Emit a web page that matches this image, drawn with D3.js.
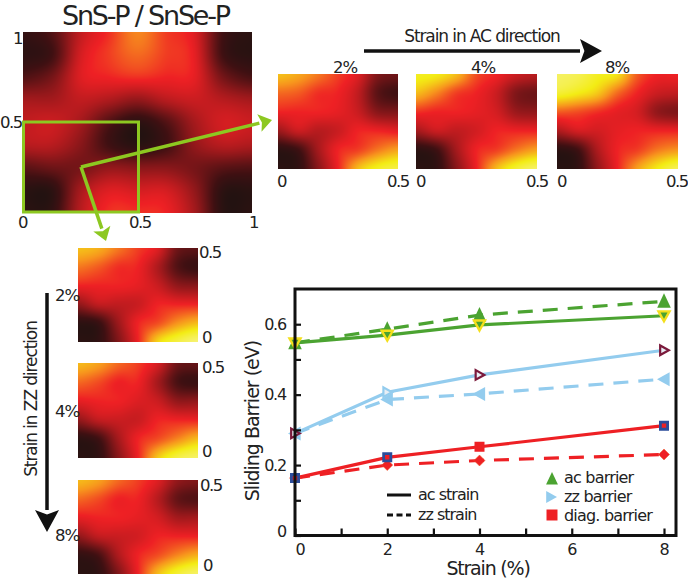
<!DOCTYPE html>
<html>
<head>
<meta charset="utf-8">
<script src="https://cdn.jsdelivr.net/npm/d3@7"></script>
<style>
  html, body { margin: 0; padding: 0; background: #fff; }
  svg { display: block; font-family: "DejaVu Sans", sans-serif; fill: #222; }
</style>
</head>
<body>
<div id="chart"></div>
<script>
// energy surfaces, read by eye (top row first, 0 = black, 1 = pale yellow)
const mainGrid = [
  [.08, .16, .40, .52, .64, .54, .46, .12, .05],
  [.06, .12, .44, .54, .60, .54, .48, .12, .05],
  [.16, .24, .46, .50, .52, .50, .48, .24, .14],
  [.34, .34, .40, .36, .30, .38, .42, .38, .34],
  [.40, .42, .34, .16, .06, .16, .34, .44, .42],
  [.38, .38, .28, .12, .05, .12, .30, .38, .36],
  [.18, .22, .24, .30, .28, .28, .24, .18, .16],
  [.05, .06, .34, .46, .44, .44, .30, .06, .05],
  [.05, .07, .38, .52, .52, .50, .34, .05, .05]
];
const ac2 = [
  [.73, .69, .62, .54, .46, .26, .22],
  [.60, .58, .52, .50, .40, .18, .12],
  [.50, .50, .50, .48, .42, .28, .26],
  [.32, .42, .38, .42, .50, .50, .48],
  [.06, .12, .34, .50, .54, .62, .68],
  [.05, .07, .28, .50, .72, .82, .86]
];
const ac4 = [
  [.82, .80, .72, .56, .50, .42, .38],
  [.72, .64, .54, .50, .42, .26, .22],
  [.52, .50, .50, .48, .44, .32, .30],
  [.34, .42, .40, .44, .50, .50, .50],
  [.06, .12, .34, .50, .54, .62, .68],
  [.05, .07, .28, .50, .72, .84, .90]
];
const ac8 = [
  [.90, .88, .82, .78, .58, .50, .50],
  [.84, .80, .74, .60, .50, .42, .40],
  [.58, .56, .52, .48, .44, .30, .26],
  [.36, .44, .44, .48, .50, .50, .50],
  [.06, .12, .36, .50, .54, .62, .66],
  [.04, .07, .30, .50, .68, .80, .88]
];
const zz2 = [
  [.73, .70, .62, .54, .46, .22, .18],
  [.62, .58, .52, .50, .36, .16, .10],
  [.50, .50, .50, .48, .42, .30, .28],
  [.30, .40, .40, .42, .50, .50, .50],
  [.06, .10, .32, .50, .56, .66, .72],
  [.05, .07, .26, .50, .76, .86, .92]
];
const zz4 = [
  [.72, .68, .60, .54, .44, .22, .20],
  [.60, .56, .50, .50, .34, .14, .10],
  [.48, .50, .50, .46, .42, .30, .30],
  [.30, .40, .42, .42, .50, .50, .50],
  [.06, .12, .34, .50, .56, .64, .72],
  [.05, .07, .28, .50, .74, .86, .90]
];
const zz8 = [
  [.72, .68, .60, .54, .46, .30, .26],
  [.60, .56, .50, .50, .38, .20, .16],
  [.48, .50, .50, .48, .44, .34, .34],
  [.30, .40, .42, .44, .50, .50, .50],
  [.08, .14, .36, .50, .56, .64, .70],
  [.05, .07, .26, .50, .72, .84, .90]
];

const strains = [0, 2, 4, 8];
const acBarrierAc = [0.547, 0.569, 0.598, 0.624];
const acBarrierZz = [0.547, 0.586, 0.626, 0.665];
const zzBarrierAc = [0.290, 0.407, 0.456, 0.526];
const zzBarrierZz = [0.290, 0.386, 0.402, 0.444];
const diagBarrierAc = [0.163, 0.222, 0.252, 0.312];
const diagBarrierZz = [0.163, 0.200, 0.213, 0.230];

const xTickLabels = [0, 2, 4, 6, 8];
const yTickLabels = [0, 0.2, 0.4, 0.6];

const GREEN = '#4ba331';
const BLUE = '#93ccee';
const RED = '#ee2024';
const LIME = '#8dc821';
const MAROON = '#7b1a3c';
const NAVY = '#2b4c9b';
const YELLOW = '#f4df1c';

const svg = d3.select('#chart').append('svg')
  .attr('width', 688)
  .attr('height', 578);

const heatColor = d3.scaleLinear()
  .domain([0, .12, .5, .66, .8, 1])
  .range(['#1b1311', '#3f1012', '#ee2024', '#f7941d', '#f3ec14', '#f8f6b0'])
  .clamp(true);

// catmull-rom so the surface goes through the values
const cubic = (a, b, c, d, t) => .5 * (2 * b + (c - a) * t
  + (2 * a - 5 * b + 4 * c - d) * t * t + (3 * b - a - 3 * c + d) * t * t * t);

const sample = (grid, u, v) => {
  const rows = grid.length, cols = grid[0].length;
  const fy = v * (rows - 1), fx = u * (cols - 1);
  const iy = Math.min(Math.floor(fy), rows - 2), ix = Math.min(Math.floor(fx), cols - 2);
  const at = (r, c) => grid[Math.max(0, Math.min(rows - 1, r))][Math.max(0, Math.min(cols - 1, c))];
  const row = r => cubic(at(r, ix - 1), at(r, ix), at(r, ix + 1), at(r, ix + 2), fx - ix);
  return cubic(row(iy - 1), row(iy), row(iy + 1), row(iy + 2), fy - iy);
};

const drawHeat = (grid, x, y, w, h) => {
  const canvas = d3.create('canvas').attr('width', w).attr('height', h).node();
  const ctx = canvas.getContext('2d');
  for (let j = 0; j < h; j++) {
    for (let i = 0; i < w; i++) {
      ctx.fillStyle = heatColor(sample(grid, i / (w - 1), j / (h - 1)));
      ctx.fillRect(i, j, 1, 1);
    }
  }
  svg.append('image')
    .attr('x', x).attr('y', y)
    .attr('width', w).attr('height', h)
    .attr('href', canvas.toDataURL());
};

const label = (txt, x, y, size, anchor, spacing) => svg.append('text')
  .attr('x', x).attr('y', y)
  .attr('font-size', size)
  .attr('text-anchor', anchor || 'start')
  .attr('letter-spacing', spacing || 0)
  .text(txt);

const arrow = (x1, y1, x2, y2, color, width, headLen, headHalf) => {
  const ang = Math.atan2(y2 - y1, x2 - x1);
  const bx = x2 - headLen * Math.cos(ang), by = y2 - headLen * Math.sin(ang);
  const nx = -Math.sin(ang) * headHalf, ny = Math.cos(ang) * headHalf;
  svg.append('line')
    .attr('x1', x1).attr('y1', y1).attr('x2', bx).attr('y2', by)
    .attr('stroke', color).attr('stroke-width', width);
  svg.append('path')
    .attr('d', `M${x2},${y2}L${bx + nx},${by + ny}L${bx + (x2 - bx) * .2},${by + (y2 - by) * .2}L${bx - nx},${by - ny}Z`)
    .attr('fill', color);
};

// big map
drawHeat(mainGrid, 23, 32, 229, 181);
label('SnS-P / SnSe-P', 62, 25, 27, 'start', -2.2);
label('1', 13, 44, 16.5);
label('0.5', 0, 128, 16.5, 'start', -1.5);
label('0', 18, 228, 16.5);
label('0.5', 129, 228, 16.5, 'start', -1.5);
label('1', 249, 228, 16.5);

svg.append('rect')
  .attr('x', 23.5).attr('y', 122)
  .attr('width', 115).attr('height', 90)
  .attr('fill', 'none')
  .attr('stroke', LIME).attr('stroke-width', 3);
arrow(81, 167, 272, 120, LIME, 3.5, 13, 9);
arrow(81, 167, 106, 241, LIME, 3.5, 13, 9);

// ac panels
drawHeat(ac2, 278, 74, 120, 95);
drawHeat(ac4, 416, 74, 121, 95);
drawHeat(ac8, 557, 74, 121, 95);
label('2%', 345, 73, 16.5, 'middle', -1);
label('4%', 483, 73, 16.5, 'middle', -1);
label('8%', 617, 73, 16.5, 'middle', -1);
label('Strain in AC direction', 482, 42, 17, 'middle', -1.1);
arrow(364, 51, 602, 51, '#111', 3.5, 22, 12);
[[277, 387], [416, 526], [557, 666]].forEach(p => {
  label('0', p[0], 187, 16.5);
  label('0.5', p[1], 187, 16.5, 'start', -1.5);
});

// zz panels
drawHeat(zz2, 78, 248, 120, 94);
drawHeat(zz4, 78, 363, 120, 95);
drawHeat(zz8, 78, 480, 120, 94);
label('0.5', 199, 258, 16.5, 'start', -1.5);
label('0', 202, 343, 16.5);
label('0.5', 202, 373, 16.5, 'start', -1.5);
label('0', 202, 457, 16.5);
label('0.5', 200, 491, 16.5, 'start', -1.5);
label('0', 203, 571, 16.5);
label('2%', 55, 301, 16.5, 'start', -1);
label('4%', 55, 417, 16.5, 'start', -1);
label('8%', 55, 541, 16.5, 'start', -1);
arrow(47, 293, 47, 532, '#111', 3.5, 22, 12);
svg.append('text')
  .attr('transform', 'translate(37,399) rotate(-90)')
  .attr('font-size', 17)
  .attr('letter-spacing', -1.1)
  .attr('text-anchor', 'middle')
  .text('Strain in ZZ direction');

// line chart
const x = d3.scaleLinear().domain([0, 8]).range([295, 664]);
const y = d3.scaleLinear().domain([0, 0.7]).range([535.5, 289]);
const line = d3.line().x(d => x(d[0])).y(d => y(d[1]));

const plot = svg.append('g');
const drawLine = (vals, color, dash) => plot.append('path')
  .attr('d', line(strains.map((s, i) => [s, vals[i]])))
  .attr('fill', 'none')
  .attr('stroke', color)
  .attr('stroke-width', 3.2)
  .attr('stroke-dasharray', dash ? '15 10' : null);

drawLine(acBarrierZz, GREEN, true);
drawLine(acBarrierAc, GREEN);
drawLine(zzBarrierZz, BLUE, true);
drawLine(zzBarrierAc, BLUE);
drawLine(diagBarrierZz, RED, true);
drawLine(diagBarrierAc, RED);

const triUp = s => `M0,${-s}L${s * .85},${s * .8}L${-s * .85},${s * .8}Z`;
const triDown = s => `M0,${s}L${s},${-s * .8}L${-s},${-s * .8}Z`;
const triRight = s => `M${s},0L${-s * .8},${s}L${-s * .8},${-s}Z`;
const triLeft = s => `M${-s},0L${s * .8},${s}L${s * .8},${-s}Z`;
const square = s => `M${-s},${-s}H${s}V${s}H${-s}Z`;
const diamond = s => `M0,${-s}L${s},0L0,${s}L${-s},0Z`;

const drawMarks = (vals, shape, fill, stroke, sw) => plot.selectAll(null)
  .data(strains.map((s, i) => [s, vals[i]]))
  .enter().append('path')
    .attr('transform', d => `translate(${x(d[0])},${y(d[1])})`)
    .attr('d', shape)
    .attr('fill', fill)
    .attr('stroke', stroke)
    .attr('stroke-width', sw);

drawMarks(acBarrierZz, triUp(8), GREEN, 'none', 0);
drawMarks(acBarrierAc, triDown(5.5), GREEN, YELLOW, 2.4);
drawMarks(zzBarrierZz, triLeft(7), BLUE, 'none', 0);
drawMarks(zzBarrierAc, triRight(4.8), '#e8eef5', d => d[0] === 2 ? BLUE : MAROON, 2.2);
drawMarks(diagBarrierZz, diamond(5.5), RED, '#f05a28', 0.5);
drawMarks(diagBarrierAc, square(3.6), RED, d => d[0] === 4 ? RED : NAVY, 2.8);

const xAxis = d3.axisBottom(x)
  .tickValues(d3.range(0, 9))
  .tickSize(-7)
  .tickFormat(d => xTickLabels.includes(d) ? d : '');
const yAxis = d3.axisLeft(y)
  .tickValues(d3.range(0, 0.7, 0.1).map(d => +d.toFixed(1)))
  .tickSize(-6)
  .tickFormat(d => yTickLabels.includes(d) ? d : '');

const gx = plot.append('g').attr('transform', 'translate(0,535.5)').call(xAxis);
const gy = plot.append('g').attr('transform', 'translate(295,0)').call(yAxis);
[gx, gy].forEach(g => {
  g.select('.domain').remove();
  g.selectAll('line').attr('stroke', '#111').attr('stroke-width', 2.2);
  g.selectAll('text').attr('font-size', 16).attr('font-family', '"DejaVu Sans"').attr('fill', '#222');
});
gx.selectAll('text').attr('dy', '0.75em').attr('y', 7);
gx.selectAll('.tick').filter(d => d === 0).select('text').attr('x', 5);
gy.selectAll('text').attr('x', -9).attr('letter-spacing', -1.2);
gy.selectAll('.tick').filter(d => d === 0).select('text').attr('y', -4);

plot.append('rect')
  .attr('x', 295).attr('y', 289)
  .attr('width', 381).attr('height', 246.5)
  .attr('fill', 'none')
  .attr('stroke', '#111').attr('stroke-width', 3);

label('Strain (%)', 488, 575, 19, 'middle', -1.2);
svg.append('text')
  .attr('transform', 'translate(259,421) rotate(-90)')
  .attr('font-size', 19)
  .attr('letter-spacing', -1)
  .attr('text-anchor', 'middle')
  .text('Sliding Barrier (eV)');

// legends
svg.append('line').attr('x1', 387).attr('x2', 411).attr('y1', 495).attr('y2', 495)
  .attr('stroke', '#111').attr('stroke-width', 3);
svg.append('line').attr('x1', 387).attr('x2', 411).attr('y1', 515).attr('y2', 515)
  .attr('stroke', '#111').attr('stroke-width', 3).attr('stroke-dasharray', '6 3.5');
label('ac strain', 418, 500, 16, 'start', -1);
label('zz strain', 418, 520, 16, 'start', -1);

svg.append('path').attr('transform', 'translate(552,479)').attr('d', triUp(7)).attr('fill', GREEN);
svg.append('path').attr('transform', 'translate(551,497)').attr('d', triRight(6)).attr('fill', BLUE);
svg.append('path').attr('transform', 'translate(552,515)').attr('d', square(5.5)).attr('fill', RED);
label('ac barrier', 564, 483, 16, 'start', -0.8);
label('zz barrier', 564, 502, 16, 'start', -0.8);
label('diag. barrier', 564, 521, 16, 'start', -0.8);
</script>
</body>
</html>
